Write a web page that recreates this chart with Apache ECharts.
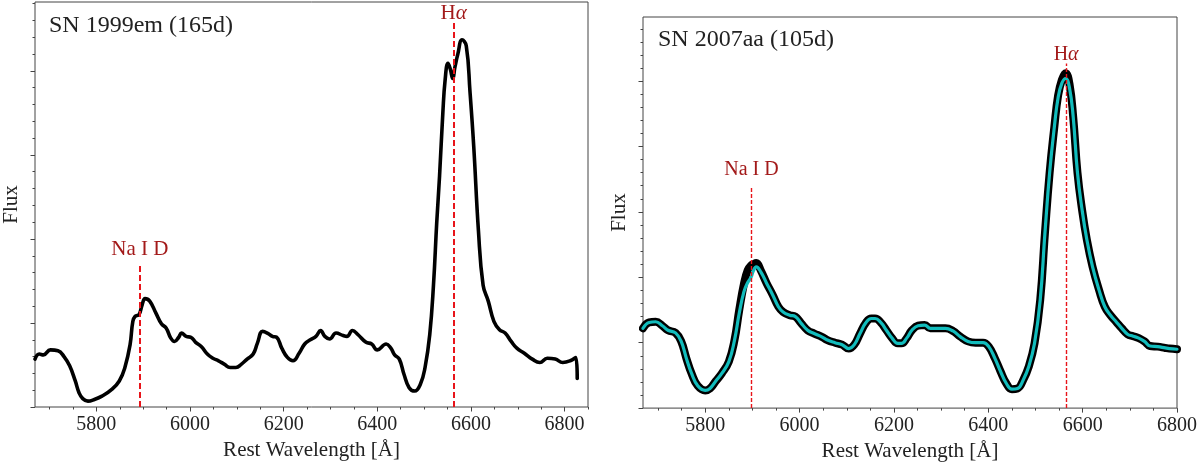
<!DOCTYPE html>
<html>
<head>
<meta charset="utf-8">
<script src="https://cdn.jsdelivr.net/npm/echarts@6.0.0/dist/echarts.min.js"></script>
<style>
  html, body { margin: 0; padding: 0; background: #fff; }
  #chart { width: 1200px; height: 467px; }
</style>
</head>
<body>
<div id="chart"></div>
<script>
///////////////////////////////////////////////////
// Data
///////////////////////////////////////////////////

// SN 1999em (165d)
var wlL = [5669, 5678, 5687, 5702, 5718, 5731, 5743, 5755, 5763, 5771, 5782, 5796, 5812, 5833, 5849,
  5861, 5872, 5878, 5883, 5891, 5898, 5904, 5914, 5927, 5939, 5949, 5959, 5967, 5976, 5982,
  5992, 6002, 6012, 6024, 6037, 6049, 6061, 6073, 6086, 6098, 6110, 6122, 6135, 6144, 6155,
  6165, 6176, 6185, 6196, 6208, 6220, 6233, 6245, 6257, 6269, 6279, 6288, 6298, 6312, 6327,
  6335, 6347, 6359, 6376, 6388, 6400, 6419, 6429, 6437, 6447, 6457, 6468, 6480, 6492, 6502,
  6512, 6520, 6527, 6533, 6540, 6545, 6551, 6556, 6561, 6566, 6572, 6581, 6590, 6598, 6606,
  6616, 6626, 6637, 6649, 6661, 6673, 6686, 6698, 6714, 6731, 6747, 6763, 6780, 6796, 6812,
  6824, 6827];
var fluxL = [0.57, 0.63, 0.62, 0.68, 0.67, 0.60, 0.49, 0.31, 0.17, 0.10, 0.07, 0.09, 0.13, 0.21, 0.31,
  0.47, 0.74, 1.02, 1.08, 1.10, 1.22, 1.29, 1.26, 1.12, 0.99, 0.94, 0.82, 0.78, 0.83, 0.88,
  0.84, 0.83, 0.77, 0.72, 0.63, 0.58, 0.55, 0.51, 0.47, 0.47, 0.51, 0.57, 0.63, 0.76, 0.90,
  0.88, 0.84, 0.83, 0.70, 0.59, 0.55, 0.64, 0.75, 0.80, 0.84, 0.91, 0.84, 0.81, 0.88, 0.85,
  0.84, 0.91, 0.86, 0.77, 0.75, 0.68, 0.75, 0.70, 0.62, 0.57, 0.39, 0.23, 0.19, 0.27, 0.47,
  0.86, 1.45, 2.20, 2.75, 3.50, 3.90, 4.09, 4.02, 3.91, 4.05, 4.20, 4.37, 4.30, 3.75, 3.10,
  2.10, 1.45, 1.26, 1.02, 0.92, 0.88, 0.78, 0.70, 0.64, 0.57, 0.53, 0.58, 0.57, 0.53, 0.55,
  0.59, 0.34];

// SN 2007aa (105d)
var wlR = [5668, 5681, 5695, 5709, 5721, 5737, 5749, 5760, 5771, 5784, 5800, 5810, 5822, 5835, 5850,
  5862, 5872, 5882, 5890, 5897, 5902, 5908, 5918, 5930, 5943, 5955, 5965, 5979, 5991, 6003,
  6017, 6031, 6047, 6059, 6075, 6090, 6104, 6116, 6128, 6140, 6152, 6160, 6172, 6184, 6196,
  6208, 6216, 6227, 6238, 6251, 6265, 6277, 6293, 6309, 6325, 6341, 6357, 6373, 6389, 6401,
  6414, 6426, 6438, 6450, 6462, 6474, 6486, 6498, 6510, 6520, 6530, 6540, 6548, 6556, 6564,
  6572, 6580, 6589, 6599, 6609, 6621, 6635, 6647, 6659, 6671, 6683, 6695, 6707, 6719, 6731,
  6743, 6759, 6775, 6784, 6800];
// cyan (model) curve
var fluxR = [1.22, 1.31, 1.32, 1.26, 1.19, 1.15, 1.02, 0.76, 0.53, 0.34, 0.27, 0.30, 0.41, 0.53, 0.71,
  1.04, 1.45, 1.78, 1.92, 2.00, 2.10, 2.16, 2.08, 1.91, 1.73, 1.55, 1.47, 1.42, 1.40, 1.30,
  1.19, 1.14, 1.09, 1.04, 1.00, 0.97, 0.91, 0.97, 1.14, 1.30, 1.37, 1.37, 1.31, 1.19, 1.07,
  0.99, 0.99, 1.07, 1.19, 1.26, 1.27, 1.22, 1.22, 1.22, 1.18, 1.09, 1.02, 1.00, 1.00, 0.94,
  0.76, 0.56, 0.38, 0.29, 0.30, 0.43, 0.64, 0.99, 1.65, 2.67, 3.60, 4.30, 4.75, 4.97, 5.04,
  4.90, 4.45, 3.60, 3.02, 2.57, 2.16, 1.80, 1.55, 1.42, 1.32, 1.22, 1.13, 1.10, 1.07, 1.02,
  0.95, 0.94, 0.92, 0.91, 0.90];
// black (observed) curve underneath
var fluxRObs = [1.22, 1.31, 1.32, 1.26, 1.19, 1.15, 1.02, 0.76, 0.53, 0.34, 0.27, 0.30, 0.41, 0.53, 0.71,
  1.04, 1.50, 1.90, 2.11, 2.18, 2.20, 2.22, 2.10, 1.91, 1.73, 1.55, 1.47, 1.42, 1.40, 1.30,
  1.19, 1.14, 1.09, 1.04, 1.00, 0.97, 0.91, 0.97, 1.14, 1.30, 1.37, 1.37, 1.31, 1.19, 1.07,
  0.99, 0.99, 1.07, 1.19, 1.26, 1.27, 1.22, 1.22, 1.22, 1.18, 1.09, 1.02, 1.00, 1.00, 0.94,
  0.76, 0.56, 0.38, 0.29, 0.30, 0.43, 0.64, 0.99, 1.65, 2.67, 3.60, 4.30, 4.78, 5.02, 5.12,
  4.96, 4.45, 3.60, 3.02, 2.57, 2.16, 1.80, 1.55, 1.42, 1.32, 1.22, 1.13, 1.10, 1.07, 1.02,
  0.95, 0.94, 0.92, 0.91, 0.90];

// line identifications: [wavelength, top of the dashed line]
var naL = [5893, 1.69], haL = [6563, 4.58];
var naR = [5898, 3.38], haR = [6565, 5.27];

// ticks
var xMajor = [5800, 6000, 6200, 6400, 6600, 6800];
var xMinor = [5700, 5750, 5850, 5900, 5950, 6050, 6100, 6150, 6250, 6300, 6350,
  6450, 6500, 6550, 6650, 6700, 6750, 6850];
var yMajorL = [0, 1, 2, 3, 4];
var yMinorL = [0.2, 0.4, 0.6, 0.8, 1.2, 1.4, 1.6, 1.8, 2.2, 2.4, 2.6, 2.8, 3.2, 3.4, 3.6, 3.8,
  4.2, 4.4, 4.6, 4.8];
var yMajorR = [0, 1, 2, 3, 4, 5];
var yMinorR = [0.2, 0.4, 0.6, 0.8, 1.2, 1.4, 1.6, 1.8, 2.2, 2.4, 2.6, 2.8, 3.2, 3.4, 3.6, 3.8,
  4.2, 4.4, 4.6, 4.8, 5.2, 5.4, 5.6, 5.8];

///////////////////////////////////////////////////
// Helpers
///////////////////////////////////////////////////
var SERIF = '"Liberation Serif", "Times New Roman", serif';
var AX = '#444';
var RED_TXT = '#a31a1a';

function pairs(xs, ys) {
  return xs.map(function (x, i) { return [x, ys[i]]; });
}

function xAxes(gi, min, max, gap) {
  return [{
    gridIndex: gi, type: 'value', position: 'bottom', min: min, max: max,
    name: 'Rest Wavelength [Å]', nameLocation: 'middle', nameGap: gap,
    nameTextStyle: { fontFamily: SERIF, fontSize: 21, color: '#222' },
    axisLine: { show: false }, splitLine: { show: false },
    axisTick: { length: 4.5, lineStyle: { color: AX }, customValues: xMajor },
    axisLabel: {
      customValues: xMajor, margin: 8, fontFamily: SERIF, fontSize: 20, color: '#222',
      formatter: function (v) { return String(v); }
    }
  }, {
    gridIndex: gi, type: 'value', position: 'bottom', min: min, max: max,
    axisLine: { show: false }, splitLine: { show: false },
    axisTick: { length: 2.5, lineStyle: { color: AX }, customValues: xMinor },
    axisLabel: { show: false }
  }];
}

function yAxes(gi, max, major, minor) {
  return [{
    gridIndex: gi, type: 'value', position: 'left', min: 0, max: max,
    name: 'Flux', nameLocation: 'middle', nameGap: 13,
    nameTextStyle: { fontFamily: SERIF, fontSize: 21, color: '#222' },
    axisLine: { show: false }, splitLine: { show: false },
    axisTick: { length: 4.5, lineStyle: { color: AX }, customValues: major },
    axisLabel: { show: false }
  }, {
    gridIndex: gi, type: 'value', position: 'left', min: 0, max: max,
    axisLine: { show: false }, splitLine: { show: false },
    axisTick: { length: 2.5, lineStyle: { color: AX }, customValues: minor },
    axisLabel: { show: false }
  }];
}

function idLines(na, ha, width, dash, naDist, haDist, size) {
  var lab = function (text, dist) {
    return {
      show: true, position: 'end', distance: dist, formatter: text,
      fontFamily: SERIF, fontSize: size, color: RED_TXT,
      rich: { it: { fontFamily: SERIF, fontSize: size, fontStyle: 'italic', color: RED_TXT } }
    };
  };
  return {
    silent: true, animation: false, symbol: ['none', 'none'],
    lineStyle: { color: '#e8141a', width: width, type: dash },
    data: [
      [{ coord: [na[0], 0] }, { coord: [na[0], na[1]], label: lab('Na I D', naDist) }],
      [{ coord: [ha[0], 0] }, { coord: [ha[0], ha[1]], label: lab('H{it|α}', haDist) }]
    ]
  };
}

///////////////////////////////////////////////////
// Chart
///////////////////////////////////////////////////
var chart = echarts.init(document.getElementById('chart'), null, { renderer: 'canvas' });

var option = {
  animation: false,
  backgroundColor: '#fff',
  grid: [
    { left: 34, top: 2, width: 554, height: 405, show: true, borderColor: AX, borderWidth: 1, backgroundColor: 'transparent' },
    { left: 643, top: 17, width: 537, height: 392, show: true, borderColor: AX, borderWidth: 1, backgroundColor: 'transparent' }
  ],
  xAxis: xAxes(0, 5669, 6850, 27).concat(xAxes(1, 5668, 6800, 26)),
  yAxis: yAxes(0, 4.82, yMajorL, yMinorL).concat(yAxes(1, 5.98, yMajorR, yMinorR)),
  graphic: [
    { type: 'text', left: 49, top: 14, style: { text: 'SN 1999em (165d)', font: '24px ' + SERIF, fill: '#222' } },
    { type: 'text', left: 658, top: 28, style: { text: 'SN 2007aa (105d)', font: '24px ' + SERIF, fill: '#222' } }
  ],
  series: [
    {
      type: 'line', xAxisIndex: 0, yAxisIndex: 0, data: pairs(wlL, fluxL),
      showSymbol: false, smooth: 0.45,
      lineStyle: { color: '#000', width: 3.6, join: 'round', cap: 'round' },
      markLine: idLines(naL, haL, 2, [6, 3], 5, -2, 21)
    },
    {
      type: 'line', xAxisIndex: 2, yAxisIndex: 2, data: pairs(wlR, fluxRObs),
      showSymbol: false, smooth: 0.45,
      lineStyle: { color: '#000', width: 8, join: 'round', cap: 'round' }
    },
    {
      type: 'line', xAxisIndex: 2, yAxisIndex: 2, data: pairs(wlR, fluxR),
      showSymbol: false, smooth: 0.45,
      lineStyle: { color: '#12bcbc', width: 3.2, join: 'round', cap: 'round' },
      markLine: idLines(naR, haR, 1.4, [4, 2], 7, -1, 20)
    }
  ]
};

chart.setOption(option);
</script>
</body>
</html>
